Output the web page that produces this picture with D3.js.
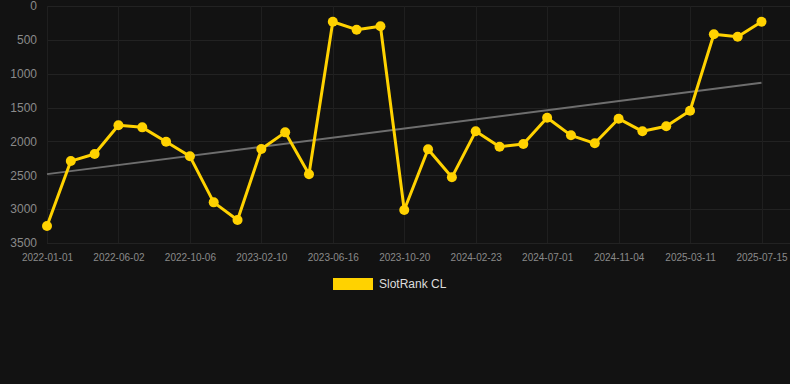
<!DOCTYPE html>
<html>
<head>
<meta charset="utf-8">
<script src="https://cdn.jsdelivr.net/npm/d3@7"></script>
<style>
  html, body { margin: 0; padding: 0; background: #121212; }
  svg { display: block; font-family: "Liberation Sans", Arial, sans-serif; }
</style>
</head>
<body>
<svg width="790" height="384"></svg>
<script>
// category dates (labels shown every 3rd)
const dates = [
  "2022-01-01", "2022-02-20", "2022-04-12", "2022-06-02", "2022-07-14", "2022-08-25",
  "2022-10-06", "2022-11-17", "2022-12-30", "2023-02-10", "2023-03-24", "2023-05-05",
  "2023-06-16", "2023-07-28", "2023-09-08", "2023-10-20", "2023-12-01", "2024-01-12",
  "2024-02-23", "2024-04-06", "2024-05-19", "2024-07-01", "2024-08-12", "2024-09-23",
  "2024-11-04", "2024-12-16", "2025-01-28", "2025-03-11", "2025-04-22", "2025-06-03",
  "2025-07-15"
];
const ranks = [
  3250, 2290, 2186, 1762, 1792, 2004, 2220, 2900, 3160, 2112, 1866, 2486,
  232, 350, 300, 3013, 2116, 2530, 1851, 2078, 2038, 1650, 1910, 2028,
  1664, 1851, 1777, 1546, 418, 453, 232
];
const yTicks = [0, 500, 1000, 1500, 2000, 2500, 3000, 3500];
const seriesName = "SlotRank CL";

const svg = d3.select("svg");

let x = d3.scalePoint().domain(dates).range([47, 761.5]);
let y = d3.scaleLinear().domain([0, 3500]).range([6, 243]);

const labelDates = dates.filter((d, i) => i % 3 === 0);

// grid
svg.append("g")
  .selectAll("line")
  .data(yTicks)
  .join("line")
  .attr("x1", 47)
  .attr("x2", 790)
  .attr("y1", d => Math.round(y(d)) + 0.5)
  .attr("y2", d => Math.round(y(d)) + 0.5)
  .style("stroke", "#222")
  .style("stroke-width", 1);

svg.append("g")
  .selectAll("line")
  .data(labelDates)
  .join("line")
  .attr("x1", d => Math.round(x(d)) + 0.5)
  .attr("x2", d => Math.round(x(d)) + 0.5)
  .attr("y1", y(0))
  .attr("y2", y(3500))
  .style("stroke", "#1f1f1f")
  .style("stroke-width", 1);

// y axis labels
let yAxis = d3.axisLeft(y).tickValues(yTicks).tickFormat(d3.format("d")).tickSize(0).tickPadding(0);
svg.append("g")
  .attr("transform", "translate(37, 0)")
  .call(yAxis)
  .call(g => g.select(".domain").remove())
  .selectAll("text")
  .style("fill", "#8a8a8a")
  .style("font-size", "12px")
  .style("font-family", "Liberation Sans, Arial, sans-serif");

// x axis labels
let xAxis = d3.axisBottom(x).tickValues(labelDates).tickSize(0).tickPadding(0);
svg.append("g")
  .attr("transform", "translate(0, 254)")
  .call(xAxis)
  .call(g => g.select(".domain").remove())
  .selectAll("text")
  .style("fill", "#8a8a8a")
  .style("font-size", "10px")
  .style("font-family", "Liberation Sans, Arial, sans-serif");

// trend line (least squares over the series)
const n = ranks.length;
const idx = d3.range(n);
const mx = d3.mean(idx), my = d3.mean(ranks);
const slope = d3.sum(idx, i => (i - mx) * (ranks[i] - my)) / d3.sum(idx, i => (i - mx) ** 2);
const intercept = my - slope * mx;
const trend = [0, n - 1].map(i => ({ d: dates[i], v: intercept + slope * i }));

svg.append("path")
  .datum(trend)
  .attr("d", d3.line().x(d => x(d.d)).y(d => y(d.v)))
  .style("fill", "none")
  .style("stroke", "#6e6e6e")
  .style("stroke-width", 2);

// series line
const data = dates.map((d, i) => ({ d: d, v: ranks[i] }));
svg.append("path")
  .datum(data)
  .attr("d", d3.line().x(d => x(d.d)).y(d => y(d.v)))
  .style("fill", "none")
  .style("stroke", "#ffd200")
  .style("stroke-width", 3)
  .style("stroke-linejoin", "round");

svg.append("g")
  .selectAll("circle")
  .data(data)
  .join("circle")
  .attr("cx", d => x(d.d))
  .attr("cy", d => y(d.v))
  .attr("r", 5)
  .style("fill", "#ffd200");

// legend
const legend = svg.append("g").attr("transform", "translate(333, 278)");
legend.append("rect")
  .attr("width", 40)
  .attr("height", 12)
  .style("fill", "#ffd200");
legend.append("text")
  .attr("x", 46)
  .attr("y", 6)
  .attr("dy", "0.35em")
  .style("fill", "#dddddd")
  .style("font-size", "12px")
  .text(seriesName);
</script>
</body>
</html>
